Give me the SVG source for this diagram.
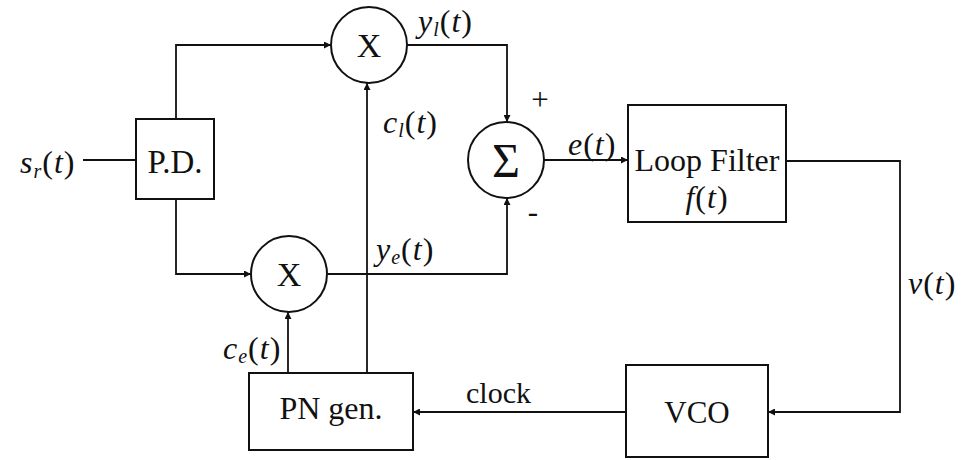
<svg xmlns="http://www.w3.org/2000/svg" width="963" height="460" viewBox="0 0 963 460">
<defs>
<marker id="arr" viewBox="0 0 10 10" refX="10" refY="5" markerWidth="9" markerHeight="7" markerUnits="userSpaceOnUse" orient="auto">
<path d="M0,0 L10,5 L0,10 Z" fill="#111"/>
</marker>
</defs>
<style>
.box{fill:#fff;stroke:#111;stroke-width:2}
.ln{fill:none;stroke:#111;stroke-width:1.8}
.t{font-family:"Liberation Serif","DejaVu Serif",serif;font-size:31px;fill:#111}
.m{font-family:"Liberation Serif","DejaVu Serif",serif;font-size:32px;font-style:italic;letter-spacing:1px;fill:#111}
.up{font-style:normal}
.sub{font-size:20px}
</style>
<rect width="963" height="460" fill="#fff"/>
<g id="connectors">
<path class="ln" d="M83,160 H136"/>
<path class="ln" d="M176,119 V45 H331" marker-end="url(#arr)"/>
<path class="ln" d="M176,199 V274 H251" marker-end="url(#arr)"/>
<path class="ln" d="M407,45 H507 V122" marker-end="url(#arr)"/>
<path class="ln" d="M328,274 H507 V198" marker-end="url(#arr)"/>
<path class="ln" d="M544,160 H628" marker-end="url(#arr)"/>
<path class="ln" d="M786,161 H900 V412 H768" marker-end="url(#arr)"/>
<path class="ln" d="M626,412 H413" marker-end="url(#arr)"/>
<path class="ln" d="M288,373 V312" marker-end="url(#arr)"/>
<path class="ln" d="M367,373 V83" marker-end="url(#arr)"/>
</g>
<g id="input-label">
<text class="m" x="20" y="173">s<tspan class="sub" dy="5">r</tspan><tspan class="up" dy="-5">(</tspan>t<tspan class="up">)</tspan></text>
</g>
<g id="pd">
<rect class="box" x="136" y="119" width="78" height="80"/>
<text class="t" x="175" y="173" text-anchor="middle" style="font-size:33px">P.D.</text>
</g>
<g id="mult-upper">
<circle class="box" cx="369" cy="45" r="38"/>
<text class="t" x="369" y="57" text-anchor="middle" style="font-size:34px">X</text>
</g>
<g id="mult-lower">
<circle class="box" cx="289" cy="274" r="38"/>
<text class="t" x="289" y="286" text-anchor="middle" style="font-size:34px">X</text>
</g>
<g id="sum">
<circle class="box" cx="506" cy="160" r="38"/>
<text class="t" x="506" y="177" text-anchor="middle" style="font-size:48px">Σ</text>
<text class="t" x="540" y="110" text-anchor="middle">+</text>
<text class="t" x="533" y="222" text-anchor="middle">-</text>
</g>
<g id="loop-filter">
<rect class="box" x="628" y="105" width="158" height="117"/>
<text class="t" x="707" y="171" text-anchor="middle" style="font-size:32px">Loop Filter</text>
<text class="m" x="707" y="208" text-anchor="middle">f<tspan class="up">(</tspan>t<tspan class="up">)</tspan></text>
</g>
<g id="vco">
<rect class="box" x="626" y="365" width="142" height="92"/>
<text class="t" x="697" y="423" text-anchor="middle">VCO</text>
</g>
<g id="pn-gen">
<rect class="box" x="249" y="373" width="164" height="77"/>
<text class="t" x="331" y="419" text-anchor="middle" style="font-size:32px">PN gen.</text>
</g>
<g id="labels">
<text class="m" x="418" y="32">y<tspan class="sub" dy="4">l</tspan><tspan class="up" dy="-4">(</tspan>t<tspan class="up">)</tspan></text>
<text class="m" x="383" y="133">c<tspan class="sub" dy="4">l</tspan><tspan class="up" dy="-4">(</tspan>t<tspan class="up">)</tspan></text>
<text class="m" x="568" y="155">e<tspan class="up">(</tspan>t<tspan class="up">)</tspan></text>
<text class="m" x="376" y="260">y<tspan class="sub" dy="4">e</tspan><tspan class="up" dy="-4">(</tspan>t<tspan class="up">)</tspan></text>
<text class="m" x="223" y="359">c<tspan class="sub" dy="4">e</tspan><tspan class="up" dy="-4">(</tspan>t<tspan class="up">)</tspan></text>
<text class="m" x="908" y="294">v<tspan class="up">(</tspan>t<tspan class="up">)</tspan></text>
<text class="t" x="466" y="403" style="font-size:30px">clock</text>
</g>
</svg>
